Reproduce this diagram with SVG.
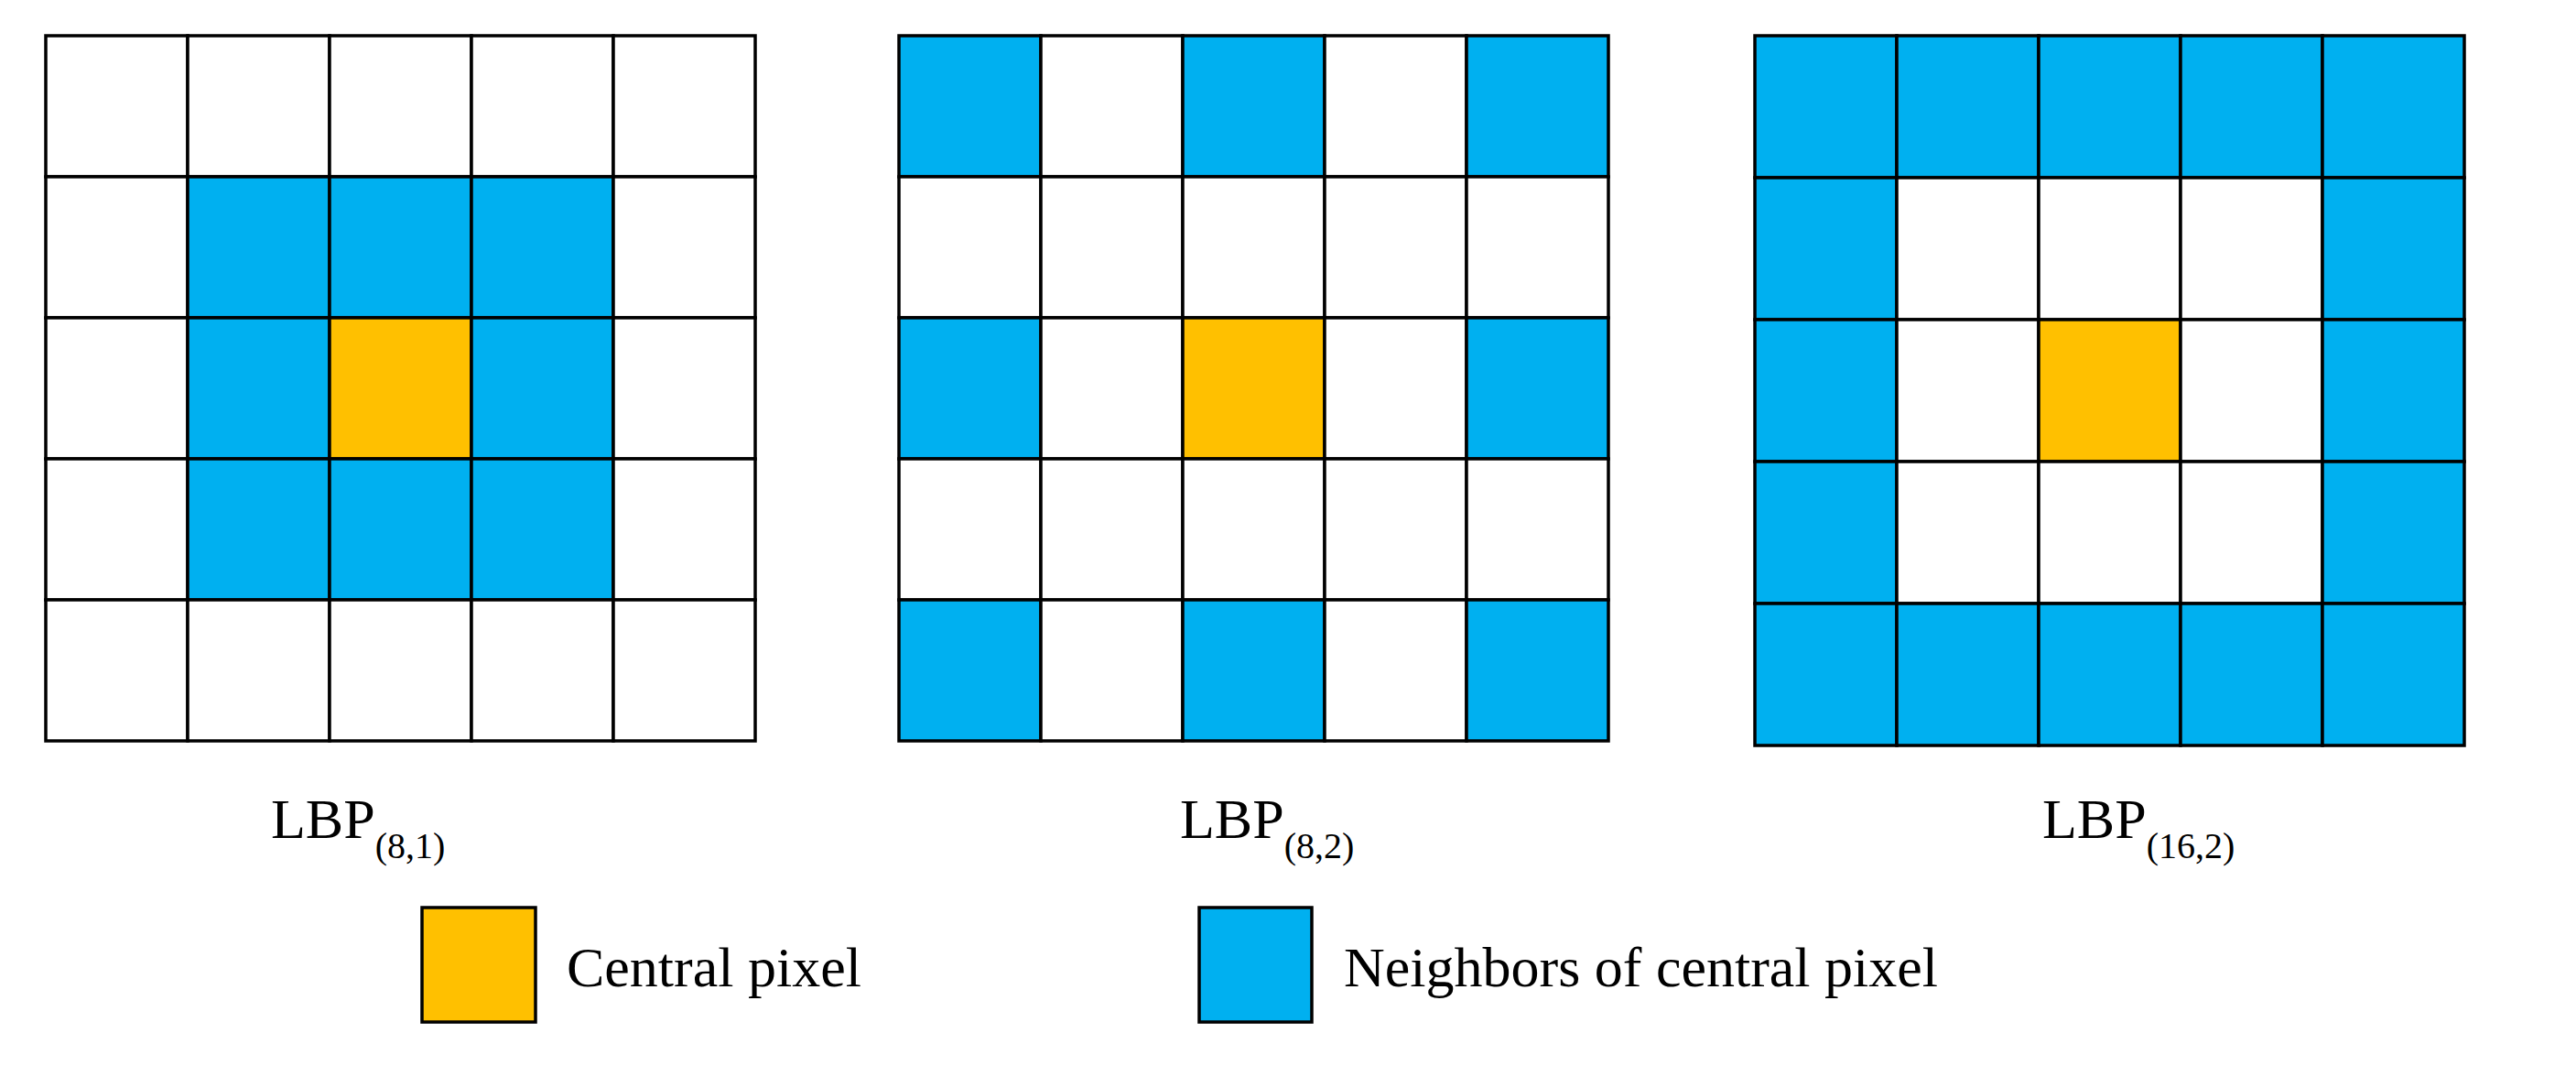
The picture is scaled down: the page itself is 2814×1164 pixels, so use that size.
<svg xmlns="http://www.w3.org/2000/svg" width="2814" height="1164" viewBox="0 0 2814 1164">
<defs><style>
.c{stroke:#000;stroke-width:3.5}
.w{fill:#fff}.b{fill:#00B0F0}.o{fill:#FFC000}
text{font-family:"Liberation Serif","Times New Roman",serif;fill:#000}
.l{font-size:62px}.s{font-size:40px}
</style></defs>
<rect width="2814" height="1164" fill="#fff"/>
<g id="grid1" transform="translate(50,39)">
<rect class="c w" x="0" y="0" width="155" height="154"/><rect class="c w" x="155" y="0" width="155" height="154"/><rect class="c w" x="310" y="0" width="155" height="154"/><rect class="c w" x="465" y="0" width="155" height="154"/><rect class="c w" x="620" y="0" width="155" height="154"/>
<rect class="c w" x="0" y="154" width="155" height="154"/><rect class="c b" x="155" y="154" width="155" height="154"/><rect class="c b" x="310" y="154" width="155" height="154"/><rect class="c b" x="465" y="154" width="155" height="154"/><rect class="c w" x="620" y="154" width="155" height="154"/>
<rect class="c w" x="0" y="308" width="155" height="154"/><rect class="c b" x="155" y="308" width="155" height="154"/><rect class="c o" x="310" y="308" width="155" height="154"/><rect class="c b" x="465" y="308" width="155" height="154"/><rect class="c w" x="620" y="308" width="155" height="154"/>
<rect class="c w" x="0" y="462" width="155" height="154"/><rect class="c b" x="155" y="462" width="155" height="154"/><rect class="c b" x="310" y="462" width="155" height="154"/><rect class="c b" x="465" y="462" width="155" height="154"/><rect class="c w" x="620" y="462" width="155" height="154"/>
<rect class="c w" x="0" y="616" width="155" height="154"/><rect class="c w" x="155" y="616" width="155" height="154"/><rect class="c w" x="310" y="616" width="155" height="154"/><rect class="c w" x="465" y="616" width="155" height="154"/><rect class="c w" x="620" y="616" width="155" height="154"/>
</g>
<g id="grid2" transform="translate(982,39)">
<rect class="c b" x="0" y="0" width="155" height="154"/><rect class="c w" x="155" y="0" width="155" height="154"/><rect class="c b" x="310" y="0" width="155" height="154"/><rect class="c w" x="465" y="0" width="155" height="154"/><rect class="c b" x="620" y="0" width="155" height="154"/>
<rect class="c w" x="0" y="154" width="155" height="154"/><rect class="c w" x="155" y="154" width="155" height="154"/><rect class="c w" x="310" y="154" width="155" height="154"/><rect class="c w" x="465" y="154" width="155" height="154"/><rect class="c w" x="620" y="154" width="155" height="154"/>
<rect class="c b" x="0" y="308" width="155" height="154"/><rect class="c w" x="155" y="308" width="155" height="154"/><rect class="c o" x="310" y="308" width="155" height="154"/><rect class="c w" x="465" y="308" width="155" height="154"/><rect class="c b" x="620" y="308" width="155" height="154"/>
<rect class="c w" x="0" y="462" width="155" height="154"/><rect class="c w" x="155" y="462" width="155" height="154"/><rect class="c w" x="310" y="462" width="155" height="154"/><rect class="c w" x="465" y="462" width="155" height="154"/><rect class="c w" x="620" y="462" width="155" height="154"/>
<rect class="c b" x="0" y="616" width="155" height="154"/><rect class="c w" x="155" y="616" width="155" height="154"/><rect class="c b" x="310" y="616" width="155" height="154"/><rect class="c w" x="465" y="616" width="155" height="154"/><rect class="c b" x="620" y="616" width="155" height="154"/>
</g>
<g id="grid3" transform="translate(1917,39)">
<rect class="c b" x="0" y="0" width="155" height="155"/><rect class="c b" x="155" y="0" width="155" height="155"/><rect class="c b" x="310" y="0" width="155" height="155"/><rect class="c b" x="465" y="0" width="155" height="155"/><rect class="c b" x="620" y="0" width="155" height="155"/>
<rect class="c b" x="0" y="155" width="155" height="155"/><rect class="c w" x="155" y="155" width="155" height="155"/><rect class="c w" x="310" y="155" width="155" height="155"/><rect class="c w" x="465" y="155" width="155" height="155"/><rect class="c b" x="620" y="155" width="155" height="155"/>
<rect class="c b" x="0" y="310" width="155" height="155"/><rect class="c w" x="155" y="310" width="155" height="155"/><rect class="c o" x="310" y="310" width="155" height="155"/><rect class="c w" x="465" y="310" width="155" height="155"/><rect class="c b" x="620" y="310" width="155" height="155"/>
<rect class="c b" x="0" y="465" width="155" height="155"/><rect class="c w" x="155" y="465" width="155" height="155"/><rect class="c w" x="310" y="465" width="155" height="155"/><rect class="c w" x="465" y="465" width="155" height="155"/><rect class="c b" x="620" y="465" width="155" height="155"/>
<rect class="c b" x="0" y="620" width="155" height="155"/><rect class="c b" x="155" y="620" width="155" height="155"/><rect class="c b" x="310" y="620" width="155" height="155"/><rect class="c b" x="465" y="620" width="155" height="155"/><rect class="c b" x="620" y="620" width="155" height="155"/>
</g>
<g id="labels">
<text class="l" x="296" y="915">LBP<tspan class="s" dy="22">(8,1)</tspan></text>
<text class="l" x="1289" y="915">LBP<tspan class="s" dy="22">(8,2)</tspan></text>
<text class="l" x="2231" y="915">LBP<tspan class="s" dy="22">(16,2)</tspan></text>
</g>
<g id="legend-central">
<rect class="c o" x="461" y="991" width="124" height="125"/>
<text class="l" x="619" y="1077">Central pixel</text>
</g>
<g id="legend-neighbors">
<rect class="c b" x="1310" y="991" width="123" height="125"/>
<text class="l" x="1468" y="1077">Neighbors of central pixel</text>
</g>
<g id="connectors"/>
</svg>
